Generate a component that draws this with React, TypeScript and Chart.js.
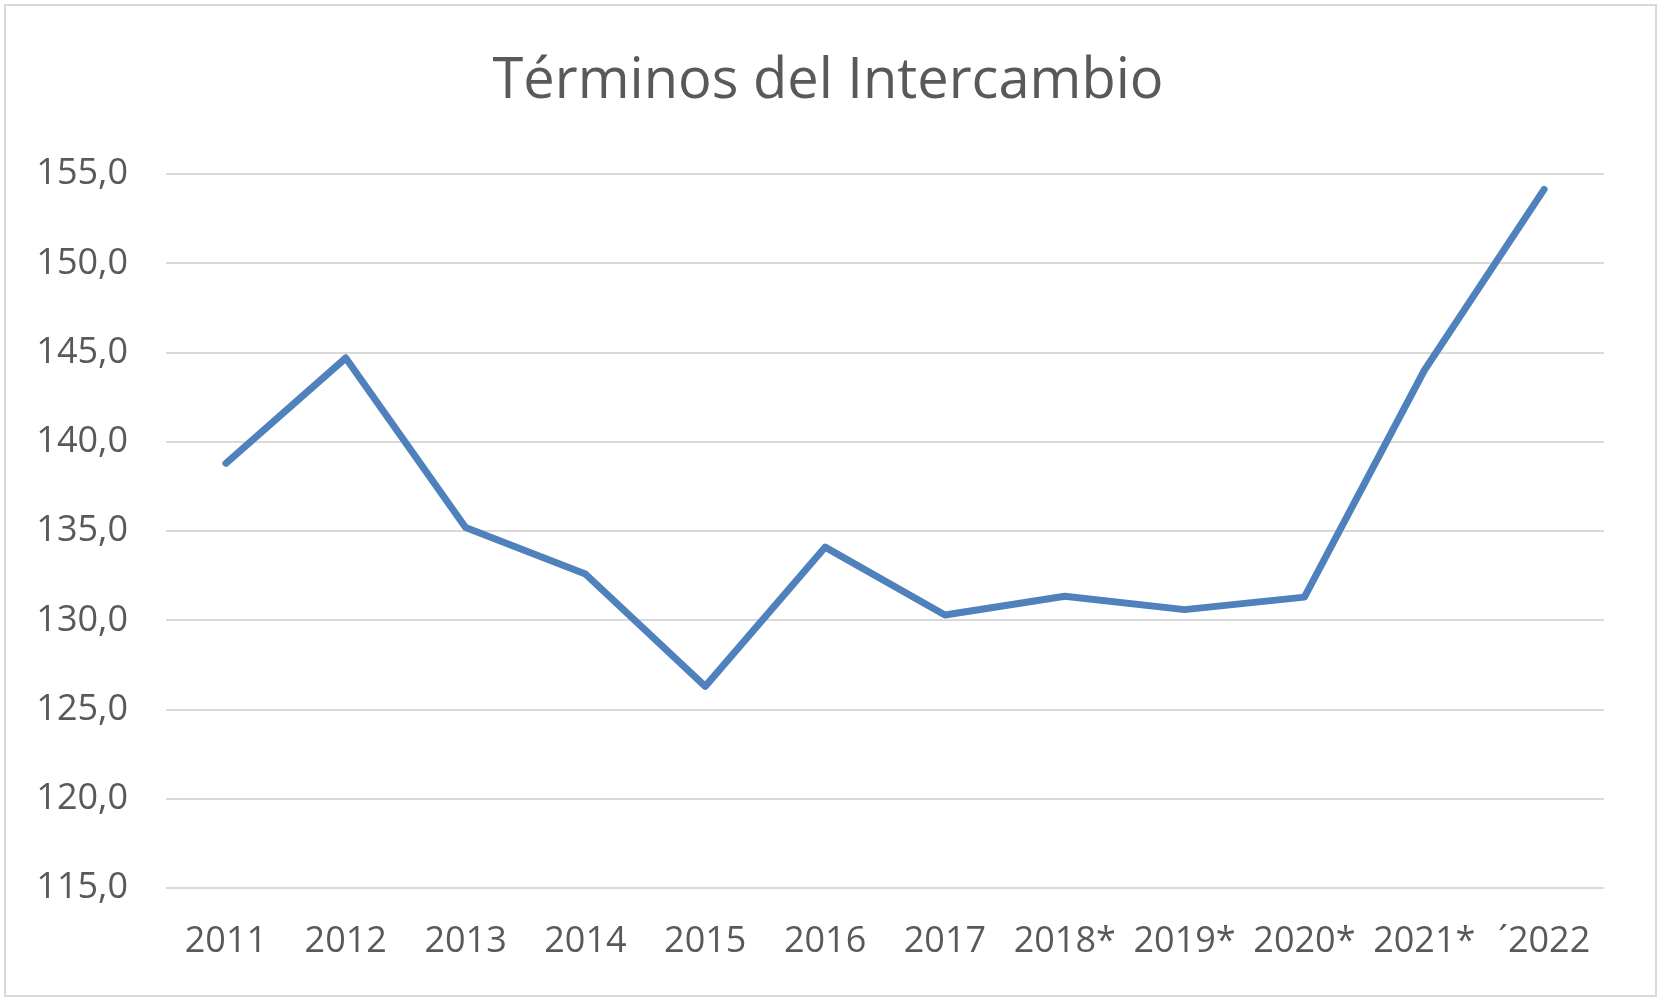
import React, { useEffect, useRef } from "react";
import { Chart, registerables } from "chart.js";

Chart.register(...registerables);

const categories = ["2011", "2012", "2013", "2014", "2015", "2016", "2017", "2018*", "2019*", "2020*", "2021*", "´2022"];
const values = [138.8, 144.7, 135.2, 132.6, 126.3, 134.1, 130.3, 131.35, 130.6, 131.3, 144.0, 154.15];
const yMin = 115;
const yMax = 155;
const yStep = 5;
const title = "Términos del Intercambio";

const FONT = "'Open Sans', 'Noto Sans', sans-serif";
const TEXT_COLOR = "#595959";
const GRID_COLOR = "#d9d9d9";
const LINE_COLOR = "#4f81bd";

export default function App() {
  const ref = useRef<HTMLCanvasElement | null>(null);

  useEffect(() => {
    if (!ref.current) return;
    const chart = new Chart(ref.current, {
      type: "line",
      data: {
        labels: categories,
        datasets: [
          {
            data: values,
            borderColor: LINE_COLOR,
            backgroundColor: LINE_COLOR,
            borderWidth: 7,
            pointRadius: 0,
            tension: 0,
            borderJoinStyle: "round",
            borderCapStyle: "round",
            clip: false as any,
          },
        ],
      },
      options: {
        animation: false,
        responsive: false,
        maintainAspectRatio: false,
        layout: { padding: { left: 0, right: 7, top: 0, bottom: 0 } },
        plugins: {
          legend: { display: false },
          tooltip: { enabled: false },
          title: {
            display: true,
            text: title,
            color: TEXT_COLOR,
            font: { family: FONT, size: 56, weight: "normal" },
            padding: { top: 48, bottom: 59 },
          },
        },
        scales: {
          x: {
            offset: true,
            grid: { display: false, drawTicks: false },
            border: { display: false },
            ticks: {
              color: TEXT_COLOR,
              font: { family: FONT, size: 36 },
              padding: 32,
              maxRotation: 0,
              autoSkip: false,
            },
            afterFit: (s: any) => {
              s.height = 1003 - 888;
            },
          },
          y: {
            min: yMin,
            max: yMax,
            grid: { color: GRID_COLOR, lineWidth: 2, drawTicks: false },
            border: { display: false },
            ticks: {
              stepSize: yStep,
              color: TEXT_COLOR,
              font: { family: FONT, size: 36 },
              padding: 38,
              callback: (v: any) => Number(v).toFixed(1).replace(".", ","),
            },
            afterFit: (s: any) => {
              s.width = 166;
            },
          },
          yRight: {
            position: "right",
            display: true,
            min: yMin,
            max: yMax,
            grid: { display: false, drawTicks: false },
            border: { display: false },
            ticks: { display: false },
            afterFit: (s: any) => {
              s.width = 52;
            },
          },
        },
      },
    });
    return () => chart.destroy();
  }, []);

  return (
    <div
      style={{
        position: "fixed",
        left: 0,
        top: 0,
        width: 1663,
        height: 1003,
        background: "#ffffff",
      }}
    >
      <canvas ref={ref} width={1663} height={1003} style={{ width: 1663, height: 1003, display: "block" }} />
      <div
        style={{
          position: "absolute",
          left: 4,
          top: 4,
          width: 1653,
          height: 993,
          boxSizing: "border-box",
          border: `2px solid ${GRID_COLOR}`,
          pointerEvents: "none",
        }}
      />
    </div>
  );
}
